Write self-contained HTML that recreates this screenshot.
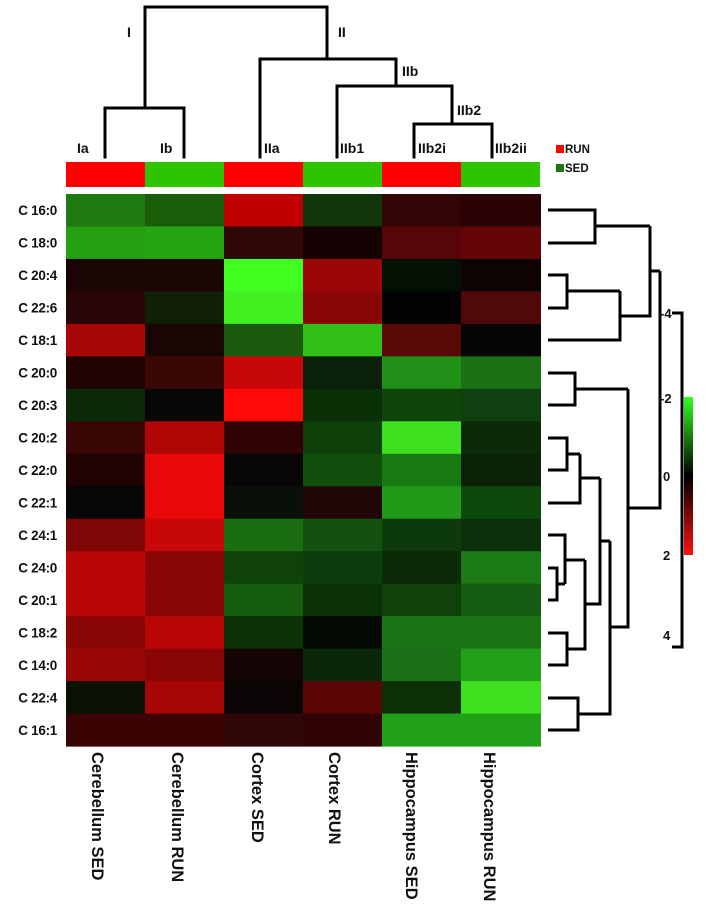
<!DOCTYPE html>
<html><head><meta charset="utf-8"><style>
html,body{margin:0;padding:0;background:#fff}
svg{display:block}
text{font-family:"Liberation Sans",sans-serif;font-weight:bold;fill:#111}
</style></head><body>
<svg width="706" height="908" viewBox="0 0 706 908" xmlns="http://www.w3.org/2000/svg">
<g stroke="#000" stroke-width="3" fill="none" stroke-linecap="square">
<path d="M145,108 V7 H327 V59"/>
<path d="M105,157 V108 H184 V157"/>
<path d="M260,157 V59 H396 V86"/>
<path d="M337,157 V86 H452 V124"/>
<path d="M414,157 V124 H492 V157"/>
</g>
<g font-size="14">
<text x="127" y="37">I</text>
<text x="338" y="37">II</text>
<text x="402" y="76">IIb</text>
<text x="457" y="115">IIb2</text>
<text x="77" y="153">Ia</text>
<text x="160" y="153">Ib</text>
<text x="264" y="153">IIa</text>
<text x="340" y="153">IIb1</text>
<text x="418" y="153">IIb2i</text>
<text x="495" y="153">IIb2ii</text>
</g>
<rect x="556" y="145" width="8" height="8" fill="#f00"/>
<text x="565" y="153" font-size="11.5">RUN</text>
<rect x="556" y="164" width="8" height="8" fill="#1a7a10"/>
<text x="565" y="172" font-size="11.5">SED</text>
<g>
<rect x="66" y="162" width="79" height="25" fill="#ff0000"/>
<rect x="145" y="162" width="79" height="25" fill="#2ec400"/>
<rect x="224" y="162" width="79" height="25" fill="#ff0000"/>
<rect x="303" y="162" width="79" height="25" fill="#2ec400"/>
<rect x="382" y="162" width="79" height="25" fill="#ff0000"/>
<rect x="461" y="162" width="79" height="25" fill="#2ec400"/>
</g>
<g id="hm"></g>
<g font-size="13.5" text-anchor="end" id="rl" letter-spacing="-0.3"></g>
<g font-size="16.5">
<text transform="translate(92,752) rotate(90)">Cerebellum SED</text>
<text transform="translate(172,752) rotate(90)">Cerebellum RUN</text>
<text transform="translate(252,752) rotate(90)">Cortex SED</text>
<text transform="translate(329,752) rotate(90)">Cortex RUN</text>
<text transform="translate(406,752) rotate(90)">Hippocampus SED</text>
<text transform="translate(484,752) rotate(90)">Hippocampus RUN</text>
</g>
<g stroke="#000" stroke-width="3" fill="none">
<path d="M548,210 H595 V243 H548 M595,226 H650"/>
<path d="M548,275 H567 V308 H548 M567,291 H620 M548,340 H620 V291 M620,316 H650 V226 M650,271 H660"/>
<path d="M548,373 H575 V405 H548 M575,389 H628"/>
<path d="M548,438 H567 V470 H548 M567,454 H580 M548,503 H580 V454 M580,478 H600"/>
<path d="M548,568 H557 V600 H548 M557,584 H565 M548,535 H565 V584 M565,560 H585"/>
<path d="M548,633 H567 V665 H548 M567,649 H585 V560 M585,604 H600 V478 M600,541 H610"/>
<path d="M548,698 H578 V730 H548 M578,714 H610 V541 M610,627 H628 V389 M628,508 H660 V271"/>
</g>
<defs><linearGradient id="g" x1="0" y1="0" x2="0" y2="1">
<stop offset="0" stop-color="#30ff20"/><stop offset="0.5" stop-color="#000"/><stop offset="1" stop-color="#ff1010"/></linearGradient></defs>
<rect x="684" y="397" width="9" height="158" fill="url(#g)"/>
<path d="M672,313 H682 V647 H672" stroke="#000" stroke-width="3" fill="none"/>
<g font-size="13">
<text x="660" y="318">-4</text>
<text x="660" y="403">-2</text>
<text x="663" y="481">0</text>
<text x="663" y="560">2</text>
<text x="663" y="640">4</text>
</g>
<script>
var rows=["C 16:0","C 18:0","C 20:4","C 22:6","C 18:1","C 20:0","C 20:3","C 20:2","C 22:0","C 22:1","C 24:1","C 24:0","C 20:1","C 18:2","C 14:0","C 22:4","C 16:1"];
var c=[
["#1f7a10","#1a5e0a","#c00000","#10350a","#330606","#2a0404"],
["#24a010","#25a512","#300808","#150202","#560606","#650606"],
["#1a0404","#1a0404","#40ff20","#9a0606","#051005","#0d0303"],
["#2a0606","#102008","#40f020","#8a0606","#020202","#500808"],
["#a80606","#1a0404","#1a5a0c","#30c018","#5a0808","#050505"],
["#200404","#3a0606","#c80808","#0a2008","#209018","#1c7014"],
["#0c2a08","#060606","#ff0808","#0a3008","#10450a","#104010"],
["#3a0606","#b00606","#300404","#0c4008","#40e020","#0c2a08"],
["#200404","#e80808","#080606","#10500c","#1a7a12","#0a2208"],
["#060606","#e80808","#081008","#200606","#209a18","#0c4a0c"],
["#800606","#c80808","#1a6e10","#145010","#0c3a0a","#0c300a"],
["#b80606","#8a0606","#0e420a","#0c3c0c","#0a2a08","#1c7a14"],
["#b80606","#8a0606","#155c0e","#0c3208","#0e420a","#165c10"],
["#8a0606","#b80606","#0c3208","#040a04","#1a7414","#1a7414"],
["#980606","#8a0606","#140404","#0a2808","#1a7014","#22a018"],
["#0a1206","#a80606","#0a0404","#5a0606","#0e3008","#40e020"],
["#3a0404","#3a0404","#300606","#300404","#22a018","#22a018"]];
var ns="http://www.w3.org/2000/svg",hm=document.getElementById("hm"),rl=document.getElementById("rl");
var h=552/17;
for(var i=0;i<17;i++){for(var j=0;j<6;j++){var r=document.createElementNS(ns,"rect");
r.setAttribute("x",66+j*79);r.setAttribute("y",(194+i*h).toFixed(2));r.setAttribute("width",80);r.setAttribute("height",(h+0.6).toFixed(2));r.setAttribute("fill",c[i][j]);hm.appendChild(r);}
var t=document.createElementNS(ns,"text");t.setAttribute("x",57);t.setAttribute("y",(194+i*h+h/2+5).toFixed(1));t.textContent=rows[i];rl.appendChild(t);}
</script>
</svg>
</body></html>
